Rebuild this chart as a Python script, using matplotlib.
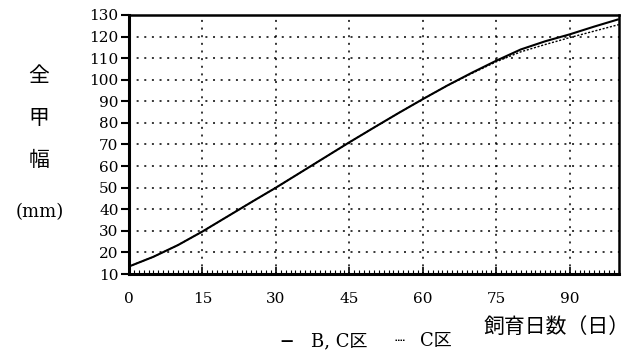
import matplotlib
matplotlib.use("Agg")
import matplotlib.pyplot as plt
from matplotlib.ticker import MultipleLocator

days = [0, 5, 10, 15, 20, 25, 30, 35, 40, 45, 50, 55, 60, 65, 70, 75, 80, 85, 90, 95, 100]
bc_zone = [13.5, 18.0, 23.4, 29.7, 36.5, 43.3, 50, 57, 64, 71, 77.8, 84.5, 91, 97.3, 103.2, 108.8, 114, 117.8, 121, 124.6, 128]
c_zone = [13.5, 18.0, 23.4, 29.7, 36.5, 43.3, 50, 57, 64, 71, 77.8, 84.5, 91, 97.3, 102.9, 108.3, 112.9, 116.3, 119.5, 122.5, 125.5]
x_ticks = [0, 15, 30, 45, 60, 75, 90]
y_ticks = [10, 20, 30, 40, 50, 60, 70, 80, 90, 100, 110, 120, 130]

serif = ["DejaVu Serif", "Noto Sans CJK JP"]
jp = ["Noto Sans CJK JP", "DejaVu Sans"]

W, H = 632, 355
fig = plt.figure(figsize=(W / 100, H / 100), dpi=100)
ax = fig.add_axes([0.204, 0.228, 0.775, 0.730])

ax.plot(days, bc_zone, color="black", lw=1.5, solid_capstyle="butt", zorder=3)
ax.plot(days, c_zone, color="black", lw=1.0, ls=(0, (1.5, 1.2)), zorder=3)

ax.set_xlim(0, 100)
ax.set_ylim(10, 130)
ax.set_xticks(x_ticks)
ax.set_yticks(y_ticks)
ax.xaxis.set_minor_locator(MultipleLocator(1))

for v in x_ticks[1:]:
    ax.axvline(v, color="black", lw=1.1, ls=(0, (1.3, 3.7)), zorder=0)
for v in y_ticks[1:-1]:
    ax.axhline(v, color="black", lw=1.1, ls=(0, (1.3, 3.7)), zorder=0)

ax.spines["left"].set_linewidth(2.2)
ax.spines["bottom"].set_linewidth(2.2)
ax.spines["top"].set_linewidth(1.8)
ax.spines["right"].set_linewidth(1.8)

ax.tick_params(axis="y", direction="out", length=6, width=1.5, pad=1.5)
ax.tick_params(axis="x", which="major", direction="in", length=5, width=1.2, pad=13)
ax.tick_params(axis="x", which="minor", direction="in", length=3, width=0.8)

for lbl in ax.get_xticklabels() + ax.get_yticklabels():
    lbl.set_fontfamily(serif)
    lbl.set_fontsize(11)

for ch, y in zip(["全", "甲", "幅"], [76, 118, 160]):
    fig.text(39 / W, 1 - y / H, ch, family=jp, fontsize=15, ha="center", va="center")
fig.text(40 / W, 1 - 212 / H, "(mm)", family=serif, fontsize=13, ha="center", va="center")

fig.text(630 / W, 1 - 327 / H, "飼育日数（日）", family=jp, fontsize=15, ha="right", va="center")

fig.text(287 / W, 1 - 341 / H, "—", family=serif, fontsize=9, ha="center", va="center", fontweight="bold")
fig.text(311 / W, 1 - 341 / H, "B, C区", family=serif, fontsize=13, ha="left", va="center")
fig.text(400 / W, 1 - 341 / H, "┈", family=["DejaVu Sans"], fontsize=12, ha="center", va="center")
fig.text(420 / W, 1 - 341 / H, "C区", family=serif, fontsize=13, ha="left", va="center")

fig.savefig("out.png", dpi=100)
